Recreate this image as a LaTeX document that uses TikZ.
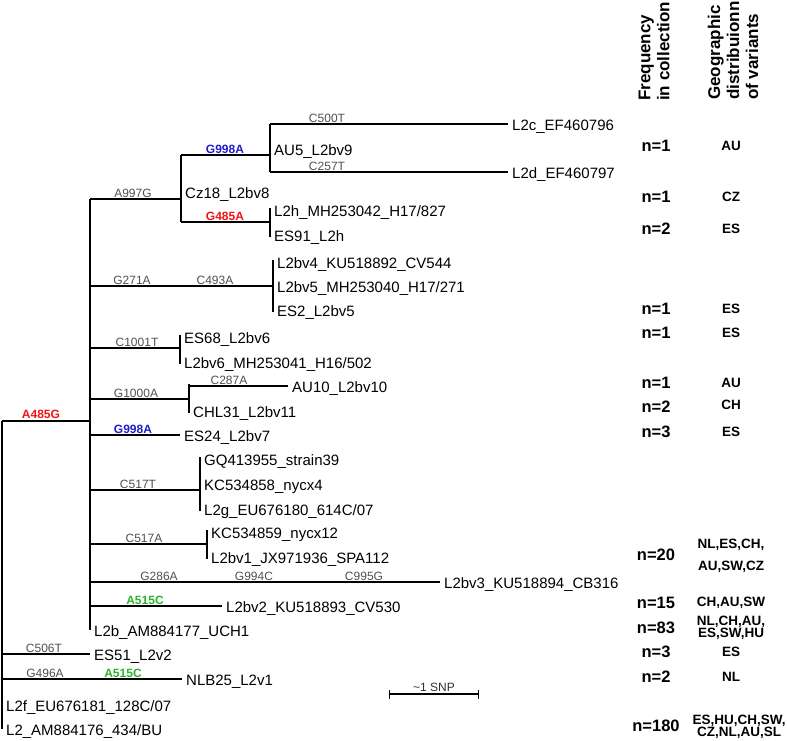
\documentclass[tikz,border=0pt]{standalone}
\usepackage{fontspec}
\setmainfont{Liberation Sans}
\usepackage{xcolor}
\definecolor{mutgray}{HTML}{505050}
\definecolor{mutred}{HTML}{F01414}
\definecolor{mutblue}{HTML}{1E1ECD}
\definecolor{mutgreen}{HTML}{2DB42D}
\definecolor{bardark}{HTML}{303030}
\usepackage{tikz}
\usetikzlibrary{arrows.meta}

\begin{document}
\begin{tikzpicture}[x=1pt, y=-1pt,
  br/.style={line width=1.1pt, black},
  tick/.style={br, shorten <=-2pt, shorten >=-2pt},
  leaf/.style={anchor=west, inner xsep=4pt, inner ysep=0pt, text height=12pt, text depth=0pt,
    font=\fontsize{15}{18}\selectfont},
  mut/.style={anchor=base, inner sep=0pt, text=mutgray, font=\fontsize{12}{14}\selectfont},
  key/.style={anchor=base, inner sep=0pt, font=\fontsize{12}{14}\selectfont\bfseries},
  freq/.style={inner sep=0pt, font=\fontsize{16.5}{19}\selectfont\bfseries},
  geo/.style={inner sep=0pt, align=center, font=\fontsize{13.5}{11}\selectfont\bfseries},
  hdr/.style={rotate=90, anchor=west, align=left, inner sep=0pt, font=\fontsize{17}{19}\selectfont\bfseries}
]
\useasboundingbox (0,0) rectangle (787,740);

% internal nodes
\coordinate (root) at (2,421);
\coordinate (nA) at (90,421);
\coordinate (nB) at (181,199);
\coordinate (nC) at (270,155);
\coordinate (nD) at (270,222);
\coordinate (nE) at (273,286);
\coordinate (nF) at (180,348);
\coordinate (nG) at (189,399);
\coordinate (nH) at (200,490);
\coordinate (nI) at (207,544);

% leaves
\node[leaf] (tL2c) at (508,124) {L2c\_EF460796};
\node[leaf] (tL2d) at (508,172) {L2d\_EF460797};
\node[leaf] (tAU5) at (270,149) {AU5\_L2bv9};
\node[leaf] (tCz18) at (181,192) {Cz18\_L2bv8};
\node[leaf] (tL2h) at (270,210) {L2h\_MH253042\_H17/827};
\node[leaf] (tES91) at (270,235) {ES91\_L2h};
\node[leaf] (tbv4) at (273,262) {L2bv4\_KU518892\_CV544};
\node[leaf] (tbv5) at (273,286) {L2bv5\_MH253040\_H17/271};
\node[leaf] (tES2) at (273,310) {ES2\_L2bv5};
\node[leaf] (tES68) at (180,337) {ES68\_L2bv6};
\node[leaf] (tbv6) at (180,362) {L2bv6\_MH253041\_H16/502};
\node[leaf] (tAU10) at (288,386) {AU10\_L2bv10};
\node[leaf] (tCHL31) at (189,411) {CHL31\_L2bv11};
\node[leaf] (tES24) at (180,435) {ES24\_L2bv7};
\node[leaf] (tGQ) at (200,459) {GQ413955\_strain39};
\node[leaf] (tKC58) at (200,484) {KC534858\_nycx4};
\node[leaf] (tL2g) at (200,509) {L2g\_EU676180\_614C/07};
\node[leaf] (tKC59) at (207,532) {KC534859\_nycx12};
\node[leaf] (tbv1) at (207,557) {L2bv1\_JX971936\_SPA112};
\node[leaf] (tbv3) at (440,582) {L2bv3\_KU518894\_CB316};
\node[leaf] (tbv2) at (222,606) {L2bv2\_KU518893\_CV530};
\node[leaf] (tL2b) at (90,630) {L2b\_AM884177\_UCH1};
\node[leaf] (tES51) at (90,654) {ES51\_L2v2};
\node[leaf] (tNLB25) at (182,679) {NLB25\_L2v1};
\node[leaf] (tL2f) at (2,705) {L2f\_EU676181\_128C/07};
\node[leaf] (tL2) at (2,729) {L2\_AM884176\_434/BU};

% verticals
\draw[br] (root) -- (root |- tL2);
\draw[br] (nA |- nB) -- (nA |- tL2b);
\draw[br] (nB |- nC) -- (nB |- nD);
\draw[br] (nC |- tL2c) -- (nC |- tL2d);
\draw[tick] (nD |- tL2h) -- (nD |- tES91);
\draw[tick] (nE |- tbv4) -- (nE |- tES2);
\draw[tick] (nF |- tES68) -- (nF |- tbv6);
\draw[tick] (nG |- tAU10) -- (nG |- tCHL31);
\draw[tick] (nH |- tGQ) -- (nH |- tL2g);
\draw[tick] (nI |- tKC59) -- (nI |- tbv1);

% horizontals
\draw[br] (root) -- (nA);
\draw[br] (nA |- nB) -- (nB);
\draw[br] (nB |- nC) -- (nC);
\draw[br] (nC |- tL2c) -- (tL2c);
\draw[br] (nC |- tL2d) -- (tL2d);
\draw[br] (nB |- nD) -- (nD);
\draw[br] (nA |- nE) -- (nE);
\draw[br] (nA |- nF) -- (nF);
\draw[br] (nA |- nG) -- (nG);
\draw[br] (nG |- tAU10) -- (tAU10);
\draw[br] (nA |- tES24) -- (tES24);
\draw[br] (nA |- nH) -- (nH);
\draw[br] (nA |- nI) -- (nI);
\draw[br] (nA |- tbv3) -- (tbv3);
\draw[br] (nA |- tbv2) -- (tbv2);
\draw[br] (root |- tES51) -- (tES51);
\draw[br] (root |- tNLB25) -- (tNLB25);

% mutations
\node[key, text=mutred] (mA485G) at (41,418) {A485G};
\node[mut] (mA997G) at (133,197) {A997G};
\node[key, text=mutblue] (mG998Aa) at (225,153) {G998A};
\node[key, text=mutred] (mG485A) at (225,220) {G485A};
\node[mut] (mC500T) at (327,122) {C500T};
\node[mut] (mC257T) at (327,170) {C257T};
\node[mut] (mG271A) at (132,284) {G271A};
\node[mut] (mC493A) at (215,284) {C493A};
\node[mut] (mC1001T) at (137,346) {C1001T};
\node[mut] (mG1000A) at (136,397) {G1000A};
\node[mut] (mC287A) at (229,384) {C287A};
\node[key, text=mutblue] (mG998Ab) at (133,433) {G998A};
\node[mut] (mC517T) at (138,488) {C517T};
\node[mut] (mC517A) at (144,542) {C517A};
\node[mut] (mG286A) at (159,580) {G286A};
\node[mut] (mG994C) at (254,580) {G994C};
\node[mut] (mC995G) at (364,580) {C995G};
\node[key, text=mutgreen] (mA515Ca) at (145,604) {A515C};
\node[mut] (mC506T) at (44,652) {C506T};
\node[mut] (mG496A) at (45,677) {G496A};
\node[key, text=mutgreen] (mA515Cb) at (123,677) {A515C};

% scale bar
\coordinate (sbL) at (389,694);
\coordinate (sbR) at (479,694);
\draw[br, {Bar[width=9pt]}-{Bar[width=9pt]}] (sbL) -- (sbR);
\node[mut, text=bardark] (sbText) at (434,691) {\textasciitilde1 SNP};

% columns
\node[hdr] (hFreq) at (654,101) {Frequency\\in collection};
\node[hdr] (hGeo) at (733,100) {Geographic\\distribuionn\\of variants};

\node[freq] (f1) at (656,146) {n=1};
\node[freq] (f2) at (656,197) {n=1};
\node[freq] (f3) at (656,229) {n=2};
\node[freq] (f4) at (656,309) {n=1};
\node[freq] (f5) at (656,333) {n=1};
\node[freq] (f6) at (656,383) {n=1};
\node[freq] (f7) at (656,407) {n=2};
\node[freq] (f8) at (656,432) {n=3};
\node[freq] (f9) at (656,555) {n=20};
\node[freq] (f10) at (656,603) {n=15};
\node[freq] (f11) at (656,628) {n=83};
\node[freq] (f12) at (656,652) {n=3};
\node[freq] (f13) at (656,677) {n=2};
\node[freq] (f14) at (656,726) {n=180};

\node[geo] (g1) at (731,146) {AU};
\node[geo] (g2) at (731,197) {CZ};
\node[geo] (g3) at (731,229) {ES};
\node[geo] (g4) at (731,309) {ES};
\node[geo] (g5) at (731,333) {ES};
\node[geo] (g6) at (731,383) {AU};
\node[geo] (g7) at (731,405) {CH};
\node[geo] (g8) at (731,432) {ES};
\node[geo] (g9) at (731,556) {NL,ES,CH,\\[9pt]AU,SW,CZ};
\node[geo] (g10) at (731,603) {CH,AU,SW};
\node[geo] (g11) at (731,628) {NL,CH,AU,\\ES,SW,HU};
\node[geo] (g12) at (731,652) {ES};
\node[geo] (g13) at (731,677) {NL};
\node[geo] (g14) at (739,727) {ES,HU,CH,SW,\\CZ,NL,AU,SL};
\end{tikzpicture}
\end{document}
